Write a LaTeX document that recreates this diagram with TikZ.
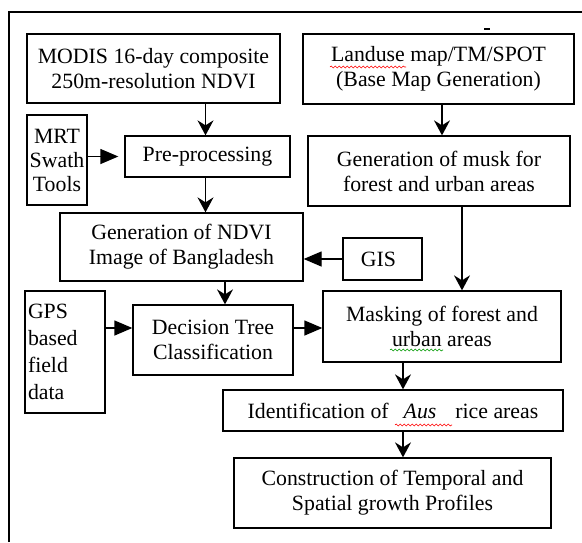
\documentclass[tikz,border=0pt]{standalone}
\usepackage{fontspec}
\setmainfont{Liberation Serif}
\usetikzlibrary{arrows.meta,decorations.pathmorphing}
\begin{document}
\begin{tikzpicture}[x=1pt,y=-1pt,
  box/.style={draw,line width=1.3pt,inner sep=0pt,align=center,
    font=\fontsize{21.8}{25}\selectfont},
  varr/.style={line width=1.3pt,-{Stealth[length=15pt,width=16pt,inset=5pt]}},
  harr/.style={line width=1.3pt,-{Triangle[length=18pt,width=15pt]}},
  squig/.style={line width=0.6pt,decorate,decoration={snake,amplitude=1pt,segment length=4pt}}
]
\useasboundingbox (0,0) rectangle (582,542);
% outer frame (cut at right and bottom)
\draw[line width=2pt] (9,542) -- (9,12) -- (582,12);
\draw[line width=1.2pt] (484,29) -- (490,29);
% boxes
\node[box,minimum width=253pt,minimum height=69pt] (modis) at (153.5,68.5)
  {MODIS 16-day composite\\250m-resolution NDVI};
\node[box,minimum width=271pt,minimum height=70pt] (land) at (438.5,69)
  {Landuse map/TM/SPOT\\(Base Map Generation)};
\node[box,minimum width=60pt,minimum height=90pt,font=\fontsize{21.8}{24}\selectfont] (mrt) at (57,160)
  {MRT\\Swath\\Tools};
\node[box,minimum width=165pt,minimum height=41pt] (pre) at (207.5,156.5)
  {Pre-processing};
\node[box,minimum width=262pt,minimum height=70pt] (musk) at (439,171)
  {Generation of musk for\\forest and urban areas};
\node[box,minimum width=243pt,minimum height=68pt] (ndvi) at (181.5,247)
  {Generation of NDVI\\Image of Bangladesh};
\node[box,minimum width=79pt,minimum height=42pt] (gis) at (382.5,259)
  {GIS\hspace{8pt}};
\node[box,minimum width=80pt,minimum height=122pt,align=left,text width=74pt,
  font=\fontsize{21.8}{27}\selectfont] (gps) at (65,352)
  {GPS\\based\\field\\data};
\node[box,minimum width=160pt,minimum height=70pt] (dt) at (213,340)
  {Decision Tree\\Classification};
\node[box,minimum width=238pt,minimum height=71pt] (mask) at (442,326.5)
  {Masking of forest and\\urban areas};
\node[box,minimum width=340pt,minimum height=41pt] (ident) at (393,410.5)
  {Identification of\hspace{15pt}\textit{Aus}\hspace{19pt}rice areas};
\node[box,minimum width=317pt,minimum height=70pt] (constr) at (392.5,493)
  {Construction of Temporal and\\Spatial growth Profiles};
% connectors
\draw[varr] ([xshift=-2pt]pre.north |- modis.south) -- ([xshift=-2pt]pre.north);
\draw[varr] ([xshift=3pt]musk.north |- land.south) -- ([xshift=3pt]musk.north);
\draw[harr,shorten >=6pt] (mrt.east |- pre.west) -- (pre.west);
\draw[varr] ([xshift=-2pt]pre.south) -- ([xshift=-2pt]pre.south |- ndvi.north);
\draw[harr] (gis.west) -- (gis.west -| ndvi.east);
\draw[varr] ([xshift=12pt]dt.north |- ndvi.south) -- ([xshift=12pt]dt.north);
\draw[harr] ([yshift=12pt]dt.west -| gps.east) -- ([yshift=12pt]dt.west);
\draw[harr] ([yshift=12pt]dt.east) -- ([yshift=12pt]dt.east -| mask.west);
\draw[varr] ([xshift=20pt]mask.north |- musk.south) -- ([xshift=20pt]mask.north);
\draw[varr] ([xshift=10pt]ident.north |- mask.south) -- ([xshift=10pt]ident.north);
\draw[varr] ([xshift=10pt]ident.south) -- ([xshift=10pt]ident.south |- constr.north);
% spell-check underlines
\draw[squig,red] (330,67) -- (406,67);
\draw[squig,green!60!black] (390,350) -- (443,350);
\draw[squig,red] (395,425) -- (452,425);
\end{tikzpicture}
\end{document}
